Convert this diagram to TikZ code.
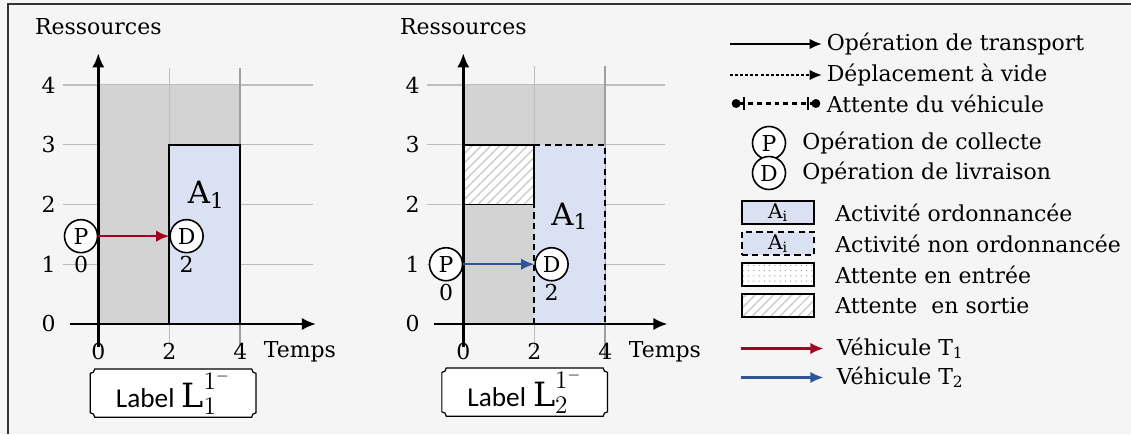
\documentclass[tikz,border=0pt]{standalone}
\usepackage{fontspec}
\setmainfont{DejaVu Serif}
\newfontfamily\labelfont{Carlito}
\usetikzlibrary{arrows.meta,patterns.meta,positioning}

\definecolor{pagebg}{HTML}{F5F5F5}
\definecolor{framegray}{HTML}{333333}
\definecolor{busygray}{HTML}{D3D3D3}
\definecolor{gridgray}{HTML}{BDBDBD}
\definecolor{actblue}{HTML}{DAE1F2}
\definecolor{vehred}{HTML}{A50021}
\definecolor{vehblue}{HTML}{2F5597}

% frame with small cut-in corners round a named node
\newcommand{\notchframe}[1]{%
  \draw[line width=0.7pt] ([xshift=2.5pt]#1.north west) -- ([xshift=-2.5pt]#1.north east)
    arc[start angle=180, end angle=270, radius=2.5pt] -- ([yshift=2.5pt]#1.south east)
    arc[start angle=90, end angle=180, radius=2.5pt] -- ([xshift=2.5pt]#1.south west)
    arc[start angle=0, end angle=90, radius=2.5pt] -- ([yshift=-2.5pt]#1.north west)
    arc[start angle=270, end angle=360, radius=2.5pt] -- cycle;}

\tikzset{
  axis/.style={line width=1.4pt, -{Latex[length=8pt,width=7pt]}},
  grid line/.style={gridgray, line width=0.6pt},
  limit line/.style={gray!75, line width=1.1pt},
  activity/.style={draw, line width=1.1pt, fill=actblue},
  pending/.style={draw, line width=1pt, fill=actblue, dash pattern=on 3.5pt off 2.5pt},
  out wait/.style={draw, line width=1.1pt, preaction={fill=white},
    pattern={Lines[angle=45,distance=3.7pt,line width=0.8pt]}, pattern color=black!20},
  in wait/.style={draw, line width=1.1pt, preaction={fill=white},
    pattern={Dots[distance=3pt,radius=0.4pt]}, pattern color=black!35},
  opnode/.style={circle, draw, line width=0.9pt, fill=white, minimum size=0.66cm, inner sep=0pt},
  big act/.style={font=\fontsize{17.5}{20}\selectfont},
  veh1/.style={vehred, line width=1.3pt, -{Latex[length=7.5pt,width=6.5pt]}},
  veh2/.style={vehblue, line width=1.3pt, -{Latex[length=7.5pt,width=6.5pt]}},
  labelbox/.style={fill=white, minimum width=3.3cm, minimum height=0.95cm, inner sep=0pt},
  legtext/.style={anchor=west, inner sep=0pt},
  legbox/.style={minimum width=1.45cm, minimum height=0.47cm, inner sep=0pt, font=\fontsize{11.5}{13}\selectfont},
  transport/.style={line width=1.3pt, -{Latex[length=7pt,width=6pt]}},
  empty move/.style={line width=1.2pt, dash pattern=on 1.7pt off 1.2pt, -{Latex[length=7pt,width=6pt]}},
  vehicle wait/.style={line width=1.3pt, dash pattern=on 2.8pt off 2.2pt,
    {Circle[length=5pt,sep=1pt] Bar[width=7pt,sep=1.5pt]}-{Bar[width=7pt,sep=1.5pt] Circle[length=5pt,sep=1pt]}},
}

\begin{document}
\begin{tikzpicture}[font=\fontsize{12.5}{15}\selectfont]
    % Page background and frame
    \useasboundingbox (0,0) rectangle (22.62,8.68);
    \fill[pagebg] (0,0) rectangle (22.62,8.68);
    \draw[framegray, line width=1.2pt] (0.16,0) -- (0.16,8.6) -- (22.62,8.6);

    % Chart of label L_1
    \begin{scope}[shift={(1.966,2.2)}, x=0.71cm, y=1.195cm]
        \foreach \r in {1,...,4} \draw[grid line] (-1,\r) -- (6.06,\r);
        \fill[busygray] (0,0) rectangle (4,4);
        \draw[grid line] (2,-0.35) -- (2,4.29);
        \draw[limit line] (4,-0.35) -- (4,4.29);
        \draw[activity] (2,0) rectangle (4,3);
        \node[big act] (act1) at (3.04,2.16) {A\textsubscript{1}};
        % axes
        \draw[axis] (-0.8,0) -- (6.13,0);
        \draw[axis] (0,-0.38) -- (0,4.53);
        \foreach \r in {0,...,4} \node (res1\r) at (-1.4,\r) {\r};
        \foreach \t in {0,2,4} \node (tim1\t) at (\t,-0.46) {\t};
        \node (temps1) at (5.68,-0.46) {Temps};
        \node (ress1) at (0,4.98) {Ressources};
        % collecte and livraison
        \node[opnode, anchor=east, label={[inner sep=1.5pt]below:0}] (p1) at (0,1.47) {P};
        \node[opnode, anchor=west, label={[inner sep=1.5pt]below:2}] (d1) at (2,1.47) {D};
        \draw[veh1] (p1) -- (d1);
        % label box
        \node[labelbox] (lab1) at (2.11,-1.156)
            {{\labelfont\fontsize{15.5}{18}\selectfont Label} {\fontsize{19}{22}\selectfont$\mathrm{L}^{1^{-}}_{1}$}};
        \notchframe{lab1}
    \end{scope}

    % Chart of label L_2
    \begin{scope}[shift={(9.266,2.2)}, x=0.71cm, y=1.195cm]
        \foreach \r in {1,...,4} \draw[grid line] (-1.03,\r) -- (5.68,\r);
        \fill[busygray] (0,0) rectangle (4,4);
        \draw[grid line] (2,-0.4) -- (2,4.31);
        \draw[limit line] (4,-0.57) -- (4,4.31);
        \draw[pending] (2,0) rectangle (4,3);
        \draw[out wait] (0,2) rectangle (2,3);
        \node[big act] (act2) at (3.0,1.8) {A\textsubscript{1}};
        % axes
        \draw[axis] (-0.83,0) -- (5.75,0);
        \draw[axis] (0,-0.38) -- (0,4.53);
        \foreach \r in {0,...,4} \node (res2\r) at (-1.43,\r) {\r};
        \foreach \t in {0,2,4} \node (tim2\t) at (\t,-0.46) {\t};
        \node (temps2) at (5.68,-0.46) {Temps};
        \node (ress2) at (0,4.98) {Ressources};
        % collecte and livraison
        \node[opnode, anchor=east, label={[inner sep=1.5pt]below:0}] (p2) at (0,1) {P};
        \node[opnode, anchor=west, label={[inner sep=1.5pt]below:2}] (d2) at (2,1) {D};
        \draw[veh2] (p2) -- (d2);
        % label box
        \node[labelbox] (lab2) at (1.73,-1.14)
            {{\labelfont\fontsize{15.5}{18}\selectfont Label} {\fontsize{19}{22}\selectfont$\mathrm{L}^{1^{-}}_{2}$}};
        \notchframe{lab2}
    \end{scope}

    % Legend: moves
    \coordinate (m1a) at (14.6,7.8);  \coordinate (m1b) at (16.44,7.8);
    \coordinate (m2a) at (14.6,7.18); \coordinate (m2b) at (16.44,7.18);
    \coordinate (m3a) at (14.6,6.61); \coordinate (m3b) at (16.44,6.61);
    \draw[transport] (m1a) -- (m1b);
    \draw[empty move] (m2a) -- (m2b);
    \draw[vehicle wait] (m3a) -- (m3b);
    \node[legtext] (txt1) at (16.53,7.8) {Opération de transport};
    \node[legtext] (txt2) at (16.53,7.18) {Déplacement à vide};
    \node[legtext] (txt3) at (16.53,6.61) {Attente du véhicule};
    % Legend: operations
    \node[opnode] (legp) at (15.38,5.82) {P};
    \node[opnode] (legd) at (15.38,5.22) {D};
    \node[legtext] (txt4) at (16.04,5.82) {Opération de collecte};
    \node[legtext] (txt5) at (16.04,5.22) {Opération de livraison};
    % Legend: activities and waits
    \node[legbox, activity] (box1) at (15.56,4.43) {A\textsubscript{i}};
    \node[legbox, pending] (box2) at (15.56,3.81) {A\textsubscript{i}};
    \node[legbox, in wait] (box3) at (15.56,3.19) {};
    \node[legbox, out wait] (box4) at (15.56,2.57) {};
    \node[legtext] (txt6) at (16.7,4.43) {Activité ordonnancée};
    \node[legtext] (txt7) at (16.7,3.81) {Activité non ordonnancée};
    \node[legtext] (txt8) at (16.7,3.19) {Attente en entrée};
    \node[legtext] (txt9) at (16.7,2.57) {Attente~~en sortie};
    % Legend: vehicles
    \coordinate (v1a) at (14.81,1.71); \coordinate (v1b) at (16.47,1.71);
    \coordinate (v2a) at (14.81,1.13); \coordinate (v2b) at (16.47,1.13);
    \draw[veh1] (v1a) -- (v1b);
    \draw[veh2] (v2a) -- (v2b);
    \node[legtext] (txt10) at (16.73,1.71) {Véhicule T\textsubscript{1}};
    \node[legtext] (txt11) at (16.73,1.13) {Véhicule T\textsubscript{2}};
\end{tikzpicture}
\end{document}
